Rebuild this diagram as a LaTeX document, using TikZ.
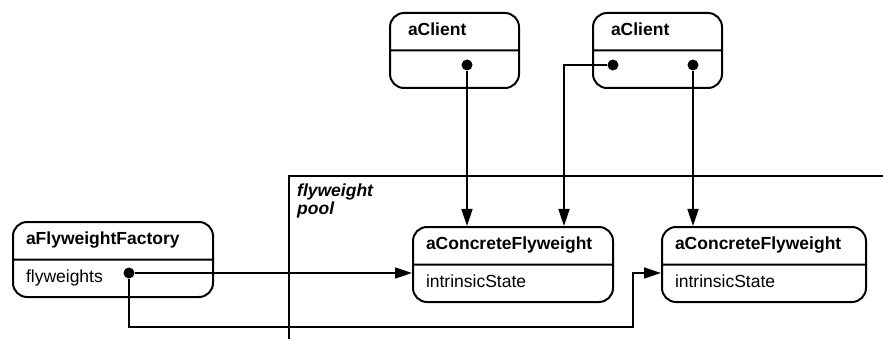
\documentclass[tikz,border=0pt]{standalone}
\usepackage{fontspec}
\setmainfont{Liberation Sans}
\usetikzlibrary{arrows.meta,calc,positioning,shapes.multipart}

\begin{document}
\begin{tikzpicture}[x=1pt,y=-1pt,>={Triangle[length=17pt,width=11pt]},
  obj/.style={rectangle split,rectangle split parts=2,draw,line width=2pt,
    rounded corners=14pt,inner xsep=13pt,inner ysep=7.75pt,align=left,
    font=\fontsize{17.5}{20}\selectfont},
  client/.style={obj,inner xsep=18pt,text width=93pt},
  fw/.style={obj,text width=174pt},
  dot/.style={circle,fill,inner sep=0pt,minimum size=11pt},
  link/.style={line width=1.7pt},
  pool/.style={line width=2pt}]
  \useasboundingbox (0,0) rectangle (883,339);
  % the pool of shared objects
  \draw[pool] (289,339) |- (883,176);
  \node[anchor=north west,inner sep=0pt,align=left,
    font=\fontsize{17.5}{14}\selectfont\bfseries\itshape] (poolname) at (297,184) {flyweight\\pool};
  % objects
  \node[client,anchor=north west] (cl1) at (389,12) {\textbf{aClient}\strut\nodepart{two}\strut};
  \node[client,right=72pt of cl1] (cl2) {\textbf{aClient}\strut\nodepart{two}\strut};
  \node[fw,anchor=north west] (fact) at (12,221) {\textbf{aFlyweightFactory}\strut\nodepart{two}flyweights\strut};
  \node[fw,anchor=north west] (conc1) at (412,226) {\textbf{aConcreteFlyweight}\strut\nodepart{two}intrinsicState\strut};
  \node[fw,text width=178pt,right=47pt of conc1] (conc2) {\textbf{aConcreteFlyweight}\strut\nodepart{two}intrinsicState\strut};
  % references
  \node[dot] (d1) at (467,65) {};
  \node[dot] (d2) at (613,65) {};
  \node[dot] (d3) at (693,65) {};
  \node[dot] (d4) at (129,273) {};
  \coordinate (bend) at (633,327);
  \draw[link,->] (d1) -- (d1 |- conc1.north);
  \draw[link,->] (d2) -| ($(conc1.north east)+(-50,0)$);
  \draw[link,->] (d3) -- (d3 |- conc2.north);
  \draw[link,->] (d4) -- (d4 -| conc1.west);
  \draw[link,->] (d4) |- (bend) |- (d4 -| conc2.west);
\end{tikzpicture}
\end{document}
